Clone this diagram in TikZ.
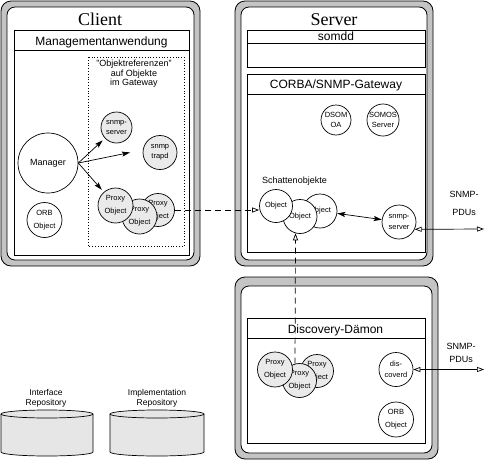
\documentclass[tikz,border=0pt]{standalone}
\usepackage{fontspec}
\setmainfont{Liberation Sans}
\newfontfamily\serifttl{Liberation Serif}
\usetikzlibrary{arrows.meta}
\definecolor{framegray}{RGB}{196,196,196}
\definecolor{circgray}{RGB}{234,234,234}
\definecolor{cylgray}{RGB}{230,230,230}
\begin{document}
\begin{tikzpicture}[x=1pt,y=-1pt, line width=0.7pt,
  outerframe/.style={draw, fill=framegray, rounded corners=10pt, line width=0.8pt},
  innerframe/.style={draw, fill=white, rounded corners=8pt, line width=0.8pt},
  appbox/.style={draw, fill=white, line width=0.8pt},
  ttl/.style={font=\serifttl\fontsize{18}{20}\selectfont, anchor=base, inner sep=0pt},
  hdr/.style={font=\fontsize{12}{14}\selectfont, anchor=base, inner sep=0pt},
  lab/.style={font=\fontsize{9}{11}\selectfont, align=center, inner sep=0pt},
  obj/.style={circle, draw, fill=white, inner sep=0pt, align=center, line width=0.7pt,
              font=\fontsize{7.5}{10.5}\selectfont},
  gobj/.style={obj, fill=circgray},
  wide/.style={font=\fontsize{7.5}{13}\selectfont},
  farrow/.style={-{Stealth[length=8pt,width=5pt,inset=1.5pt]}},
  fboth/.style={{Stealth[length=8pt,width=5pt,inset=1.5pt]}-{Stealth[length=8pt,width=5pt,inset=1.5pt]}},
  oarrow/.style={-{Triangle[open,fill=white,length=7pt,width=5pt]}},
  oboth/.style={{Triangle[open,fill=white,length=7pt,width=5pt]}-{Triangle[open,fill=white,length=7pt,width=5pt]}},
  dashline/.style={dash pattern=on 6pt off 4pt}
]
\useasboundingbox (0,0) rectangle (485,461);

% ---------------- Client ----------------
\draw[outerframe] (1,1) rectangle (200,266);
\draw[innerframe] (7,7) rectangle (194,260);
\node[ttl] (clienttitle) at (100,25) {Client};
\draw[appbox] (14,30) rectangle (189,255);
\draw (14,50) -- (189,50);
\node[hdr] (mgmt) at (101.5,45) {Managementanwendung};
\draw[dotted, line width=0.8pt] (88,57) rectangle (184,246);
\node[lab, font=\fontsize{9}{9.5}\selectfont] (objref) at (134,74) {"Objektreferenzen"\\auf Objekte\\im Gateway};

\node[gobj, minimum size=31pt] (csnmp) at (116.5,127.5) {snmp-\\server};
\node[gobj, minimum size=34pt] (ctrapd) at (160,152.5) {snmp\\trapd};
\node[obj, minimum size=60pt, font=\fontsize{9}{11}\selectfont] (mgr) at (48,163) {Manager};
\node[obj, wide, minimum size=35pt] (corb) at (44.5,220) {ORB\\Object};
\node[gobj, wide, minimum size=33pt] (cprox3) at (158,210) {Proxy\\Object};
\node[gobj, wide, minimum size=35pt] (cprox2) at (139.5,216.5) {Proxy\\Object};
\node[gobj, wide, minimum size=35pt] (cprox1) at (115.5,205.5) {Proxy\\Object};
\coordinate (trapend) at (130,152.5);

\draw[farrow, shorten >=3pt] (mgr.east) -- (csnmp);
\draw[farrow] (mgr.east) -- (trapend);
\draw[farrow, shorten >=3pt] (mgr.east) -- (cprox1);

% ---------------- Server ----------------
\draw[outerframe] (235,1) rectangle (433,266);
\draw[innerframe] (241,7) rectangle (427,260);
\node[ttl] (servertitle) at (334,25) {Server};
\draw[appbox] (247,30) rectangle (425,67);
\draw (247,43) -- (425,43);
\node[hdr] (somdd) at (336,40) {somdd};
\draw[appbox] (247,74) rectangle (425,252);
\draw (247,94) -- (425,94);
\node[hdr] (gw) at (336,88) {CORBA/SNMP-Gateway};
\node[obj, minimum size=30pt] (dsom) at (336,120) {DSOM\\OA};
\node[obj, minimum size=30pt] (somos) at (383,120) {SOMOS\\Server};
\node[lab] (schatten) at (294.5,181) {Schattenobjekte};
\node[obj, minimum size=34pt] (sobj3) at (320,211) {Object};
\node[obj, minimum size=34pt] (sobj2) at (300,216.5) {Object};
\node[obj, minimum size=33pt] (sobj1) at (276,206) {Object};
\node[obj, minimum size=34pt] (ssnmp) at (399,222) {snmp-\\server};
\node[lab, font=\fontsize{9}{18}\selectfont] (pdus1) at (464,203) {SNMP-\\PDUs};
\coordinate (pdu1end) at (484,229);

\draw[fboth] (sobj3) -- (ssnmp);
\draw[oboth] (ssnmp.-25) -- (pdu1end);

% ---------------- Discovery ----------------
\draw[outerframe] (235,277) rectangle (438,459);
\draw[innerframe] (241,286) rectangle (432,453);
\draw[appbox] (247,318) rectangle (425,443);
\draw (247,338) -- (425,338);
\node[hdr] (disc) at (335.5,333) {Discovery-Dämon};
\node[gobj, wide, minimum size=33pt] (dprox3) at (317,371) {Proxy\\Object};
\node[gobj, wide, minimum size=34pt] (dprox2) at (299.5,380.5) {Proxy\\Object};
\node[gobj, wide, minimum size=35pt] (dprox1) at (275,369.5) {Proxy\\Object};
\node[obj, minimum size=34pt] (discd) at (396,369.5) {dis-\\coverd};
\node[obj, wide, minimum size=35pt] (dorb) at (396,419.5) {ORB\\Object};
\node[lab, font=\fontsize{9}{13}\selectfont] (pdus2) at (461,353) {SNMP-\\PDUs};
\coordinate (pdu2end) at (484,369.5);
\draw[oboth] (discd.east) -- (pdu2end);

% ---------------- dashed references ----------------
\draw[dashline, oarrow] (cprox3.east) -- (cprox3.east -| sobj1.west);
\draw[dashline, oarrow] (dprox2.105) -- (sobj2.255);

% ---------------- Repositories ----------------
\fill[cylgray] (1,414) -- (1,452) arc[start angle=180,end angle=0,x radius=46,y radius=4] -- (93,414) arc[start angle=0,end angle=-180,x radius=46,y radius=4] -- cycle;
\draw (1,414) -- (1,452) arc[start angle=180,end angle=0,x radius=46,y radius=4] -- (93,414);
\draw (47,414) ellipse[x radius=46,y radius=4];
\node[lab, font=\fontsize{8.5}{10}\selectfont] (irep) at (46,398) {Interface\\Repository};

\fill[cylgray] (110,414) -- (110,452) arc[start angle=180,end angle=0,x radius=47,y radius=4] -- (204,414) arc[start angle=0,end angle=-180,x radius=47,y radius=4] -- cycle;
\draw (110,414) -- (110,452) arc[start angle=180,end angle=0,x radius=47,y radius=4] -- (204,414);
\draw (157,414) ellipse[x radius=47,y radius=4];
\node[lab, font=\fontsize{8.5}{10}\selectfont] (mrep) at (157,398) {Implementation\\Repository};
\end{tikzpicture}
\end{document}
